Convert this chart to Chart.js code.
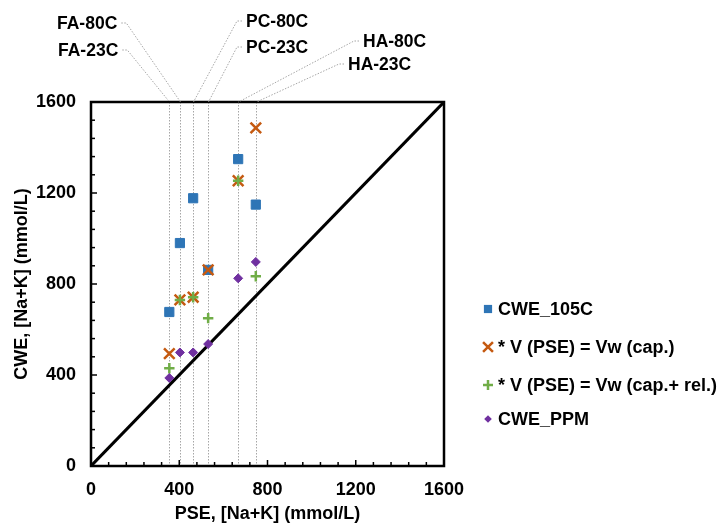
<!DOCTYPE html>
<html>
<head>
<meta charset="utf-8">
<script src="https://cdn.jsdelivr.net/npm/chart.js@4.4.0/dist/chart.umd.min.js"></script>
<style>
  html, body { margin: 0; padding: 0; background: #fff; }
  #wrap { width: 719px; height: 525px; }
</style>
</head>
<body>
<div id="wrap"><canvas id="myChart"></canvas></div>
<script>
// sample names and their PSE [Na+K] (mmol/L)
const samples = ['FA-23C', 'FA-80C', 'PC-80C', 'PC-23C', 'HA-80C', 'HA-23C'];
const pse = [355, 403, 463, 531, 667, 747];

// CWE [Na+K] (mmol/L) per method
const cwe105 = [677, 980, 1177, 862, 1349, 1149];
const vCap = [494, 730, 742, 862, 1254, 1486];
const vCapRel = [430, 730, 742, 650, 1254, 834];
const cwePPM = [387, 499, 499, 536, 825, 897];

const axisTicks = [0, 400, 800, 1200, 1600];
const oneToOne = [0, 1600];

const FONT = 'Liberation Sans, Arial, sans-serif';
const boldFont = { family: FONT, size: 18, weight: 'bold' };

function pts(ys) {
    return pse.map((x, i) => ({ x: x, y: ys[i] }));
}

const series = [
    { label: 'CWE_105C', data: pts(cwe105), color: '#2E75B6', style: 'rect', r: 6.5, lr: 5.8, bw: 1, order: 4 },
    { label: '* V (PSE) = Vw (cap.)', data: pts(vCap), color: '#C55A11', style: 'crossRot', r: 7.5, lr: 7, bw: 2.5, order: 3 },
    { label: '* V (PSE) = Vw (cap.+ rel.)', data: pts(vCapRel), color: '#70AD47', style: 'cross', r: 5.2, lr: 5, bw: 2.5, order: 2 },
    { label: 'CWE_PPM', data: pts(cwePPM), color: '#7030A0', style: 'rectRot', r: 4.5, lr: 3.8, bw: 1, order: 1 }
];

// inward tick marks, frame, sample guide lines, top labels, legend
const decorations = {
    id: 'decorations',
    beforeDatasetsDraw(chart) {
        const ctx = chart.ctx;
        const area = chart.chartArea;
        const xs = chart.scales.x;
        ctx.save();
        ctx.strokeStyle = '#a6a6a6';
        ctx.lineWidth = 1;
        ctx.setLineDash([1.5, 1.5]);
        pse.forEach(v => {
            const px = Math.round(xs.getPixelForValue(v)) + 0.5;
            ctx.beginPath();
            ctx.moveTo(px, area.top);
            ctx.lineTo(px, area.bottom);
            ctx.stroke();
        });
        ctx.restore();
    },
    afterDraw(chart) {
        const ctx = chart.ctx;
        const area = chart.chartArea;
        const xs = chart.scales.x;
        const ys = chart.scales.y;
        ctx.save();

        // minor ticks every 80, pointing into the plot
        ctx.strokeStyle = '#000';
        ctx.lineWidth = 1.5;
        for (let v = 80; v < 1600; v += 80) {
            const len = v % 400 === 0 ? 6 : 4;
            const px = xs.getPixelForValue(v);
            ctx.beginPath();
            ctx.moveTo(px, area.bottom);
            ctx.lineTo(px, area.bottom - len);
            ctx.stroke();
            const py = ys.getPixelForValue(v);
            ctx.beginPath();
            ctx.moveTo(area.left, py);
            ctx.lineTo(area.left + len, py);
            ctx.stroke();
        }

        // frame
        ctx.lineWidth = 2.5;
        ctx.strokeRect(area.left, area.top, area.right - area.left, area.bottom - area.top);

        // sample labels above the plot with dotted leaders
        const spots = [[58, 50], [57, 23], [246, 21], [246, 47], [363, 41], [348, 64]];
        ctx.font = 'bold 17.5px ' + FONT;
        ctx.textBaseline = 'middle';
        ctx.fillStyle = '#000';
        samples.forEach((name, i) => {
            const tx = spots[i][0], ty = spots[i][1];
            const w = ctx.measureText(name).width;
            ctx.textAlign = 'left';
            ctx.fillText(name, tx, ty + 1);
            const target = xs.getPixelForValue(pse[i]);
            let sx, hx;
            if (target > tx + w) {
                sx = tx + w + 4; hx = sx + 5;
            } else {
                sx = tx - 4; hx = sx - 5;
            }
            ctx.save();
            ctx.strokeStyle = '#a6a6a6';
            ctx.lineWidth = 1;
            ctx.setLineDash([1.5, 1.5]);
            ctx.beginPath();
            ctx.moveTo(sx, ty);
            ctx.lineTo(hx, ty);
            ctx.lineTo(Math.round(target) + 0.5, area.top);
            ctx.stroke();
            ctx.restore();
        });

        // legend
        ctx.font = 'bold 18px ' + FONT;
        const rows = [309, 347, 385, 419];
        series.forEach((s, i) => {
            ctx.fillStyle = s.color;
            ctx.strokeStyle = s.color;
            ctx.lineWidth = s.bw;
            drawMarker(ctx, s.style, 488, rows[i], s.lr);
            ctx.fillStyle = '#000';
            ctx.textAlign = 'left';
            ctx.fillText(s.label, 498, rows[i] + 1);
        });
        ctx.restore();
    }
};

function drawMarker(ctx, style, x, y, r) {
    ctx.save();
    ctx.beginPath();
    if (style === 'rect') {
        const h = r * Math.SQRT1_2;
        ctx.rect(x - h, y - h, 2 * h, 2 * h);
        ctx.fill();
    } else if (style === 'rectRot') {
        ctx.moveTo(x - r, y); ctx.lineTo(x, y - r); ctx.lineTo(x + r, y); ctx.lineTo(x, y + r);
        ctx.closePath();
        ctx.fill();
    } else if (style === 'crossRot') {
        const h = r * Math.SQRT1_2;
        ctx.moveTo(x - h, y - h); ctx.lineTo(x + h, y + h);
        ctx.moveTo(x - h, y + h); ctx.lineTo(x + h, y - h);
        ctx.stroke();
    } else {
        ctx.moveTo(x - r, y); ctx.lineTo(x + r, y);
        ctx.moveTo(x, y - r); ctx.lineTo(x, y + r);
        ctx.stroke();
    }
    ctx.restore();
}

document.addEventListener("DOMContentLoaded", function () {
    const c = document.getElementById("myChart").getContext('2d');

    const datasets = series.map(s => ({
        type: 'scatter',
        label: s.label,
        data: s.data,
        pointStyle: s.style,
        pointRadius: s.r,
        pointHoverRadius: s.r,
        pointBorderWidth: s.bw,
        backgroundColor: s.color,
        borderColor: s.color,
        order: s.order
    }));

    datasets.push({
        type: 'line',
        label: '1:1',
        data: oneToOne.map(v => ({ x: v, y: v })),
        borderColor: '#000',
        borderWidth: 3,
        pointRadius: 0,
        fill: false,
        order: 5
    });

    new Chart(c, {
        type: 'scatter',
        data: { datasets: datasets },
        options: {
            responsive: true,
            maintainAspectRatio: false,
            animation: false,
            layout: { padding: { left: 0, top: 102, right: 275, bottom: 0 } },
            plugins: {
                legend: { display: false },
                tooltip: { enabled: false }
            },
            scales: {
                x: {
                    type: 'linear',
                    min: 0,
                    max: 1600,
                    afterBuildTicks: s => { s.ticks = axisTicks.map(v => ({ value: v })); },
                    ticks: { padding: 13, color: '#000', font: boldFont, callback: v => String(v) },
                    grid: { display: false, drawTicks: false },
                    border: { display: false },
                    title: {
                        display: true,
                        text: 'PSE, [Na+K] (mmol/L)',
                        color: '#000',
                        font: boldFont,
                        padding: { top: 0, bottom: 0 }
                    },
                    afterFit: s => { s.height = 59; }
                },
                y: {
                    type: 'linear',
                    min: 0,
                    max: 1600,
                    afterBuildTicks: s => { s.ticks = axisTicks.map(v => ({ value: v })); },
                    ticks: { padding: 15, color: '#000', font: boldFont, callback: v => String(v) },
                    grid: { display: false, drawTicks: false },
                    border: { display: false },
                    title: {
                        display: true,
                        text: 'CWE, [Na+K] (mmol/L)',
                        color: '#000',
                        font: boldFont,
                        padding: { top: 11, bottom: 0 }
                    },
                    afterFit: s => { s.width = 91; }
                }
            }
        },
        plugins: [decorations]
    });
});
</script>
</body>
</html>
